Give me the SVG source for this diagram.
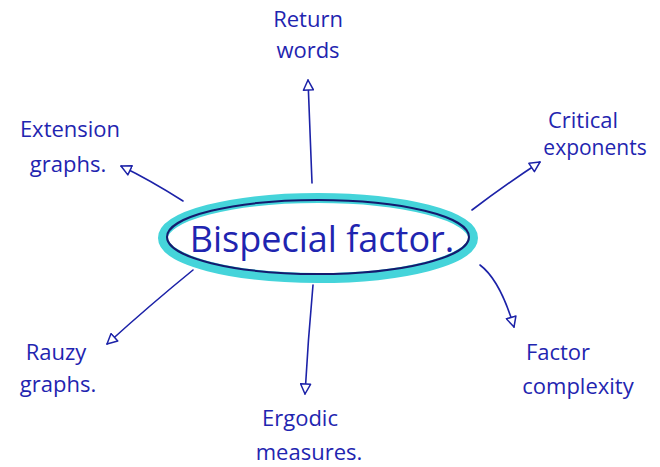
<svg xmlns="http://www.w3.org/2000/svg" width="660" height="467" viewBox="0 0 660 467">
<style>
.lbl{font-family:"Open Sans","Liberation Sans",sans-serif;fill:#1f25b0;font-size:22px;text-anchor:middle}
.con{fill:none;stroke:#1c22a8;stroke-width:1.6;stroke-linecap:round}
</style>
<defs>
<marker id="ah" viewBox="0 0 12 12" refX="11" refY="6" markerWidth="12" markerHeight="12" markerUnits="userSpaceOnUse" orient="auto">
<path d="M1,1 L11,6 L1,11 Z" fill="#fff" stroke="#1c22a8" stroke-width="1.5" stroke-linejoin="round"/>
</marker>
</defs>
<rect width="660" height="467" fill="#fff"/>
<g id="connectors">
<path class="con" d="M312,183 Q310,130 308,80" marker-end="url(#ah)"/>
<path class="con" d="M183,201 Q150,180 121,166" marker-end="url(#ah)"/>
<path class="con" d="M472,210 Q505,185 540,162" marker-end="url(#ah)"/>
<path class="con" d="M193,270 Q150,305 107,344" marker-end="url(#ah)"/>
<path class="con" d="M313,285 Q308,340 305,394" marker-end="url(#ah)"/>
<path class="con" d="M480,265 Q500,280 514,327" marker-end="url(#ah)"/>
</g>
<g id="center">
<ellipse cx="318" cy="238" rx="155" ry="40" fill="#fff" stroke="#45d4da" stroke-width="10"/>
<ellipse cx="318" cy="237" rx="151" ry="37" fill="none" stroke="#141a6e" stroke-width="2"/>
<text class="lbl" x="322" y="252" style="font-size:36px">Bispecial factor.</text>
</g>
<g id="return-words">
<text class="lbl" x="308" y="27">Return</text>
<text class="lbl" x="308" y="58">words</text>
</g>
<g id="extension-graphs">
<text class="lbl" x="70" y="137">Extension</text>
<text class="lbl" x="68" y="172">graphs.</text>
</g>
<g id="critical-exponents">
<text class="lbl" x="583" y="128">Critical</text>
<text class="lbl" x="595" y="155" style="font-size:21px">exponents</text>
</g>
<g id="rauzy-graphs">
<text class="lbl" x="56" y="360">Rauzy</text>
<text class="lbl" x="58" y="392">graphs.</text>
</g>
<g id="ergodic-measures">
<text class="lbl" x="300" y="426">Ergodic</text>
<text class="lbl" x="309" y="460">measures.</text>
</g>
<g id="factor-complexity">
<text class="lbl" x="558" y="360">Factor</text>
<text class="lbl" x="578" y="394">complexity</text>
</g>
</svg>
